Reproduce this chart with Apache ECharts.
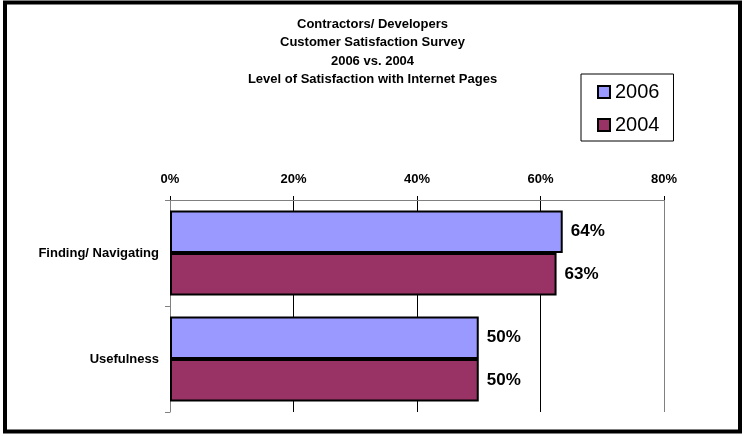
<!DOCTYPE html>
<html>
<head>
<meta charset="utf-8">
<script src="https://cdn.jsdelivr.net/npm/echarts@6/dist/echarts.min.js"></script>
<style>
	html, body { margin: 0; padding: 0; background: #fff; }
	#chart { width: 745px; height: 436px; }
</style>
</head>
<body>
<div id="chart"></div>
<script>
const fontFamily = "'Liberation Sans', Arial, sans-serif";

const titleLines = [
	"Contractors/ Developers",
	"Customer Satisfaction Survey",
	"2006 vs. 2004",
	"Level of Satisfaction with Internet Pages",
];
const categories = ["Finding/ Navigating", "Usefulness"];
const seriesNames = ["2006", "2004"];
const values2006 = [63.6, 50];
const values2004 = [62.6, 50];
const seriesColors = ["#9999FF", "#993366"];

function makeBarSeries(name, data, colour) {
	return {
		name: name,
		type: "bar",
		data: data,
		barGap: "0%",
		barCategoryGap: "20%",
		itemStyle: { color: colour, borderColor: "#000", borderWidth: 2 },
		label: {
			show: true,
			position: "right",
			distance: 8,
			color: "#000",
			fontFamily: fontFamily,
			fontWeight: "bold",
			fontSize: 17,
			formatter: (p) => Math.round(p.value) + "%",
		},
	};
}

const chartDom = document.getElementById("chart");
const myChart = echarts.init(chartDom);
const option = {
	animation: false,
	backgroundColor: "#fff",
	title: {
		text: titleLines.join("\n"),
		left: "center",
		top: 15,
		padding: [0, 0, 0, 11],
		textStyle: {
			fontFamily: fontFamily,
			fontWeight: "bold",
			fontSize: 13,
			lineHeight: 18.5,
			color: "#000",
		},
	},
	legend: {
		data: seriesNames,
		orient: "vertical",
		left: 581,
		top: 74,
		padding: [8, 14, 6, 16],
		itemGap: 13,
		itemWidth: 12,
		itemHeight: 12,
		icon: "rect",
		borderColor: "#000",
		borderWidth: 1,
		itemStyle: { borderColor: "#000", borderWidth: 2 },
		textStyle: {
			fontFamily: fontFamily,
			fontSize: 20,
			lineHeight: 20,
			color: "#000",
		},
	},
	grid: { left: 170, right: 81, top: 200, bottom: 24, containLabel: false },
	xAxis: {
		type: "value",
		position: "top",
		min: 0,
		max: 80,
		interval: 20,
		axisLine: { show: true, lineStyle: { color: "#808080", width: 1 } },
		axisTick: { show: true, length: 4, lineStyle: { color: "#000" } },
		axisLabel: {
			formatter: "{value}%",
			margin: 14,
			color: "#000",
			fontFamily: fontFamily,
			fontWeight: "bold",
			fontSize: 13,
		},
		splitLine: {
			show: true,
			lineStyle: { color: ["#808080", "#000", "#000", "#000", "#808080"], width: 1 },
		},
	},
	yAxis: {
		type: "category",
		inverse: true,
		data: categories,
		axisLine: { show: true, lineStyle: { color: "#808080", width: 1 } },
		axisTick: { show: true, length: 5, lineStyle: { color: "#808080" } },
		axisLabel: {
			margin: 11,
			color: "#000",
			fontFamily: fontFamily,
			fontWeight: "bold",
			fontSize: 13,
		},
	},
	graphic: [
		{
			type: "rect",
			shape: { x: 5, y: 2.5, width: 735, height: 429 },
			style: { fill: null, stroke: "#000", lineWidth: 4 },
			silent: true,
		},
	],
	series: [
		makeBarSeries(seriesNames[0], values2006, seriesColors[0]),
		makeBarSeries(seriesNames[1], values2004, seriesColors[1]),
	],
};
myChart.setOption(option);
</script>
</body>
</html>
